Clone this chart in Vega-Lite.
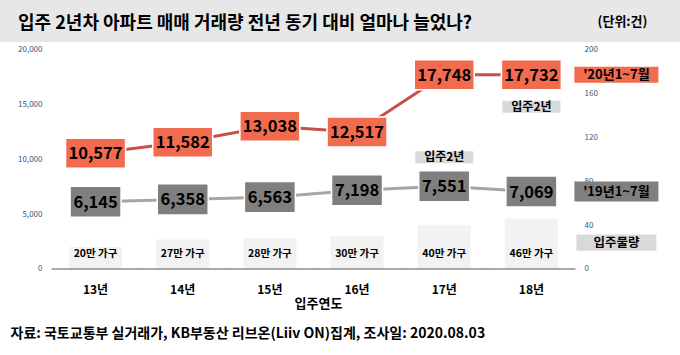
{
  "$schema": "https://vega.github.io/schema/vega-lite/v6.json",
  "width": 680,
  "height": 355,
  "padding": 0,
  "autosize": {"type": "none"},
  "background": "#ffffff",
  "config": {
    "font": "Noto Sans CJK KR",
    "view": {
      "stroke": null,
      "fill": {
        "gradient": "linear",
        "x1": 0, "y1": 0, "x2": 0, "y2": 1,
        "stops": [
          {"offset": 0, "color": "#e7e7e7"},
          {"offset": 0.1183, "color": "#e7e7e7"},
          {"offset": 0.1184, "color": "#ffffff"},
          {"offset": 1, "color": "#ffffff"}
        ]
      }
    }
  },
  "title": {
    "text": "입주 2년차 아파트 매매 거래량 전년 동기 대비 얼마나 늘었나?",
    "orient": "top",
    "anchor": "start",
    "frame": "group",
    "offset": -42,
    "dx": 18,
    "baseline": "middle",
    "fontSize": 18,
    "fontWeight": "bold",
    "color": "#000000",
    "font": "Noto Sans CJK KR"
  },
  "data": {
    "values": [
      {"yr": "13년", "v20": 10577, "v19": 6145, "supply": 20, "supplyLabel": "20만 가구"},
      {"yr": "14년", "v20": 11582, "v19": 6358, "supply": 27, "supplyLabel": "27만 가구"},
      {"yr": "15년", "v20": 13038, "v19": 6563, "supply": 28, "supplyLabel": "28만 가구"},
      {"yr": "16년", "v20": 12517, "v19": 7198, "supply": 30, "supplyLabel": "30만 가구"},
      {"yr": "17년", "v20": 17748, "v19": 7551, "supply": 40, "supplyLabel": "40만 가구", "note19": "입주2년"},
      {"yr": "18년", "v20": 17732, "v19": 7069, "supply": 46, "supplyLabel": "46만 가구", "note20": "입주2년"}
    ]
  },
  "encoding": {
    "x": {
      "field": "yr",
      "type": "ordinal",
      "sort": null,
      "scale": {"type": "band", "paddingInner": 0, "paddingOuter": 0.9005, "align": 0.331},
      "axis": {
        "orient": "bottom",
        "offset": -86,
        "domain": false,
        "ticks": false,
        "grid": false,
        "labelAngle": 0,
        "labelPadding": 15,
        "labelFontSize": 12,
        "labelFontWeight": "bold",
        "labelColor": "#000000",
        "title": "입주연도",
        "titleFontSize": 13,
        "titleFontWeight": "bold",
        "titleColor": "#000000",
        "titleX": 318,
        "titleY": 34,
        "titleAlign": "center",
        "titleBaseline": "middle"
      }
    }
  },
  "layer": [
    {
      "encoding": {
        "y": {
          "field": "supply",
          "type": "quantitative",
          "scale": {"domain": [-78.54, 245.66], "nice": false, "zero": false},
          "axis": {
            "orient": "right",
            "offset": -105,
            "values": [0, 40, 80, 120, 160, 200],
            "format": ".0f",
            "domain": false,
            "ticks": false,
            "grid": false,
            "labelPadding": 9,
            "labelFontSize": 8,
            "labelColor": "#44546a",
            "title": "(단위:건)",
            "titleAngle": 0,
            "titleX": 47,
            "titleY": 21,
            "titleAlign": "center",
            "titleBaseline": "middle",
            "titleFontSize": 13,
            "titleFontWeight": "bold",
            "titleColor": "#000000"
          }
        }
      },
      "layer": [
        {
          "mark": {"type": "bar", "width": 53, "color": "#f2f2f2"},
          "encoding": {"y2": {"datum": 0}}
        },
        {
          "mark": {"type": "tick", "orient": "horizontal", "size": 88, "thickness": 1.5, "color": "#8c8c8c", "opacity": 1},
          "encoding": {"y": {"datum": 0}}
        },
        {
          "mark": {"type": "text", "fontSize": 10.5, "fontWeight": "bold", "color": "#000000", "baseline": "middle", "dy": -15},
          "encoding": {"y": {"datum": 0}, "text": {"field": "supplyLabel"}}
        },
        {
          "transform": [{"filter": "datum.yr === '18년'"}],
          "mark": {"type": "point", "shape": "M-1.333,-0.267H1.333V0.267H-1.333Z", "size": 3600, "filled": true, "opacity": 1, "color": "#d9d9d9", "xOffset": 85, "yOffset": 24}
        },
        {
          "transform": [{"filter": "datum.yr === '18년'"}],
          "mark": {"type": "text", "fontSize": 12.5, "fontWeight": "bold", "color": "#000000", "baseline": "middle", "dx": 85, "dy": 24},
          "encoding": {"text": {"value": "입주물량"}}
        }
      ]
    },
    {
      "transform": [{"fold": ["v20", "v19"], "as": ["series", "value"]}],
      "encoding": {
        "y": {
          "field": "value",
          "type": "quantitative",
          "scale": {"domain": [-7854, 24566], "nice": false, "zero": false},
          "axis": {
            "orient": "left",
            "offset": -52,
            "values": [0, 5000, 10000, 15000, 20000],
            "format": ",.0f",
            "domain": false,
            "ticks": false,
            "grid": false,
            "labelPadding": 10,
            "labelFontSize": 8,
            "labelColor": "#44546a",
            "title": "자료: 국토교통부 실거래가, KB부동산 리브온(Liiv ON)집계, 조사일: 2020.08.03",
            "titleAngle": 0,
            "titleX": -42,
            "titleY": 333,
            "titleAlign": "left",
            "titleBaseline": "middle",
            "titleFontSize": 14,
            "titleFontWeight": "bold",
            "titleColor": "#000000"
          }
        }
      },
      "layer": [
        {
          "mark": {"type": "line", "strokeWidth": 3},
          "encoding": {
            "stroke": {"field": "series", "type": "nominal", "scale": {"domain": ["v20", "v19"], "range": ["#c8504b", "#a6a6a6"]}, "legend": null}
          }
        },
        {
          "mark": {"type": "point", "filled": true, "opacity": 1, "size": 3600, "stroke": "#ffffff", "strokeWidth": 1.5},
          "encoding": {
            "shape": {"field": "series", "type": "nominal", "scale": {"domain": ["v20", "v19"], "range": ["M-1,-0.5H1V0.5H-1Z", "M-0.85,-0.517H0.85V0.517H-0.85Z"]}, "legend": null},
            "fill": {"field": "series", "type": "nominal", "scale": {"domain": ["v20", "v19"], "range": ["#f26b4f", "#7f7f7f"]}, "legend": null}
          }
        },
        {
          "mark": {"type": "text", "fontSize": 16.5, "fontWeight": "bold", "color": "#000000", "baseline": "middle", "dy": 1},
          "encoding": {"text": {"field": "value", "type": "quantitative", "format": ",.0f"}}
        },
        {
          "transform": [{"filter": "datum.series === 'v19' && datum.note19"}],
          "mark": {"type": "point", "shape": "M-0.967,-0.2H0.967V0.2H-0.967Z", "size": 3600, "filled": true, "opacity": 1, "color": "#d9d9d9", "yOffset": -29}
        },
        {
          "transform": [{"filter": "datum.series === 'v19' && datum.note19"}],
          "mark": {"type": "text", "fontSize": 12, "fontWeight": "bold", "color": "#000000", "baseline": "middle", "dy": -29},
          "encoding": {"text": {"field": "note19"}}
        },
        {
          "transform": [{"filter": "datum.series === 'v20' && datum.note20"}],
          "mark": {"type": "point", "shape": "M-0.967,-0.2H0.967V0.2H-0.967Z", "size": 3600, "filled": true, "opacity": 1, "color": "#d9d9d9", "yOffset": 32}
        },
        {
          "transform": [{"filter": "datum.series === 'v20' && datum.note20"}],
          "mark": {"type": "text", "fontSize": 12, "fontWeight": "bold", "color": "#000000", "baseline": "middle", "dy": 32},
          "encoding": {"text": {"field": "note20"}}
        },
        {
          "transform": [{"filter": "datum.series === 'v20' && datum.yr === '18년'"}],
          "mark": {"type": "point", "shape": "M-1.4,-0.267H1.4V0.267H-1.4Z", "size": 3600, "filled": true, "opacity": 1, "color": "#f26b4f", "xOffset": 85}
        },
        {
          "transform": [{"filter": "datum.series === 'v20' && datum.yr === '18년'"}],
          "mark": {"type": "text", "fontSize": 13, "fontWeight": "bold", "color": "#000000", "baseline": "middle", "dx": 85},
          "encoding": {"text": {"value": "'20년1~7월"}}
        },
        {
          "transform": [{"filter": "datum.series === 'v19' && datum.yr === '18년'"}],
          "mark": {"type": "point", "shape": "M-1.4,-0.333H1.4V0.333H-1.4Z", "size": 3600, "filled": true, "opacity": 1, "color": "#7f7f7f", "xOffset": 85}
        },
        {
          "transform": [{"filter": "datum.series === 'v19' && datum.yr === '18년'"}],
          "mark": {"type": "text", "fontSize": 13, "fontWeight": "bold", "color": "#000000", "baseline": "middle", "dx": 85},
          "encoding": {"text": {"value": "'19년1~7월"}}
        }
      ]
    }
  ],
  "resolve": {"scale": {"y": "independent"}, "axis": {"y": "independent"}}
}
